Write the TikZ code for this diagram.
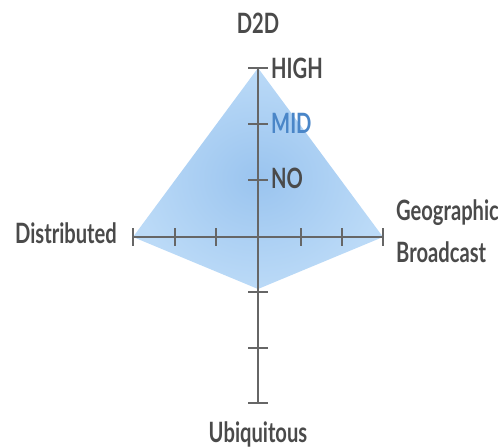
\documentclass[tikz,border=0pt]{standalone}
\usepackage{fontspec}
\setmainfont{Lato}[FakeStretch=0.72]
\usetikzlibrary{calc}
\definecolor{axisgray}{HTML}{666666}
\definecolor{textgray}{HTML}{4A4A4A}
\definecolor{midblue}{HTML}{4A86C8}
\definecolor{areaout}{HTML}{BBDAF7}
\definecolor{areain}{HTML}{9AC4EF}
\tikzset{
  axis/.style={draw=axisgray, line width=2.4pt},
  tickmark/.style={draw=axisgray, line width=2.2pt},
  lbl/.style={text=textgray, font=\fontsize{28}{32}\selectfont\bfseries, inner sep=0pt},
}
\begin{document}
\begin{tikzpicture}[x=1pt, y=-1pt]
\useasboundingbox (0,0) rectangle (498,447);
% axis end points and centre
\coordinate (C) at (258,237);
\coordinate (T) at (258,68);
\coordinate (B) at (258,403);
\coordinate (L) at (133,237);
\coordinate (R) at (383,237);
\coordinate (P) at (258,289);
% shaded area
\shade[inner color=areain, outer color=areaout, shading=radial]
  (T) -- (R) -- (P) -- (L) -- cycle;
% axes
\draw[axis] (T) -- (B);
\draw[axis] (L) -- (R);
% vertical ticks
\foreach \y in {68,124,180,292,348,403}
  \draw[tickmark] (248,\y) -- (268,\y);
% horizontal ticks
\foreach \x in {133,175,216,301,342,383}
  \draw[tickmark] (\x,228) -- (\x,246);
% labels
\node[lbl, anchor=base] (d2d) at (258,33) {D2D};
\node[lbl, anchor=base west] (high) at (271,78) {HIGH};
\node[lbl, anchor=base west, text=midblue] (mid) at (271,133) {MID};
\node[lbl, anchor=base west] (no) at (271,188) {NO};
\node[lbl, anchor=base east] (dist) at (117,243) {Distributed};
\node[lbl, anchor=base west] (geo) at (396,220) {Geographic};
\node[lbl, anchor=base west] (bc) at (396,262) {Broadcast};
\node[lbl, anchor=base] (ubi) at (258,442) {Ubiquitous};
\end{tikzpicture}
\end{document}
